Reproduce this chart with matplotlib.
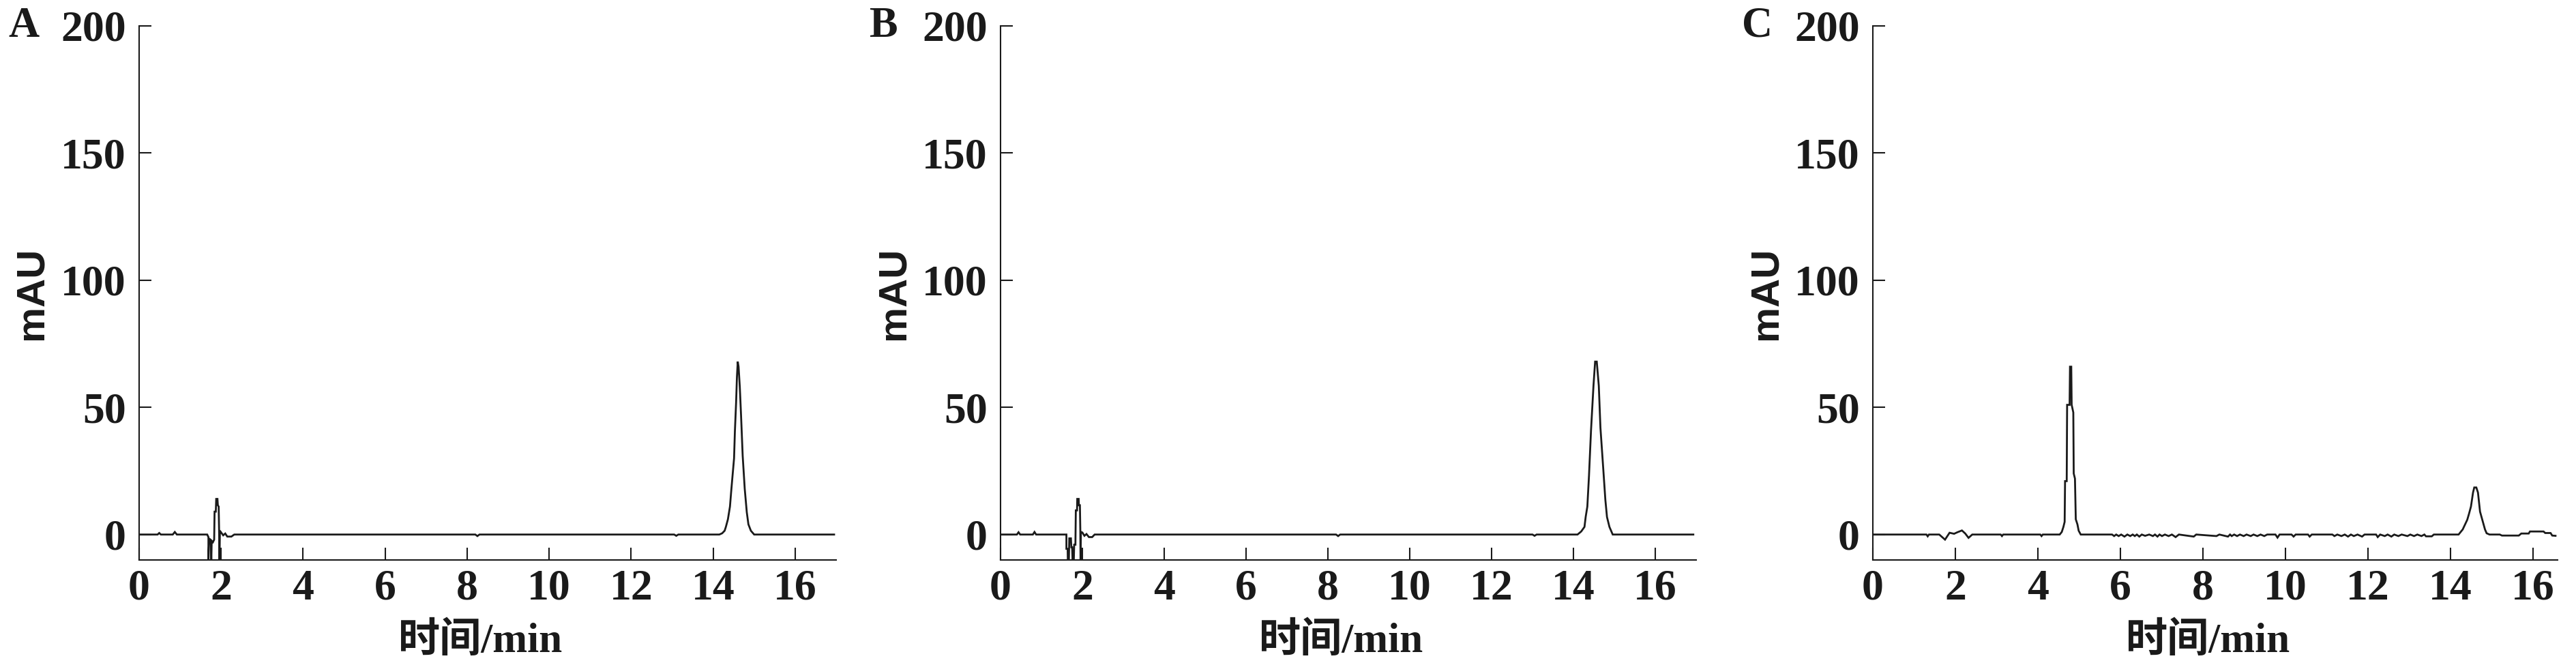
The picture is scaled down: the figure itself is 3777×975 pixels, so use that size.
import matplotlib
matplotlib.use('Agg')
import matplotlib.pyplot as plt

# chromatogram traces (time in min, signal in mAU)
time_a = [0, 0.45, 0.49, 0.53, 0.82, 0.87, 0.92, 1.66, 1.69, 1.69, 1.71, 1.75, 1.76, 1.77,
          1.8, 1.83, 1.84, 1.87, 1.88, 1.91, 1.92, 1.94, 1.95, 1.96, 1.97, 2.0, 2.05, 2.1,
          2.15, 2.25, 2.32, 8.2, 8.25, 8.3, 13.05, 13.1, 13.15,
          14.15, 14.22, 14.28, 14.31, 14.36, 14.41, 14.44, 14.47, 14.51, 14.53, 14.56, 14.58,
          14.6, 14.62, 14.65, 14.68, 14.72, 14.77, 14.82, 14.86, 14.92, 15.0, 16.95]
mau_a = [0, 0, 0.6, 0, 0, 1.0, 0, 0, -1.0, -10.5, -1.5, -2.5, -10.5, -2.5,
         -3.0, -2.0, 9.0, 9.0, 14.0, 14.0, 11.5, 11.0, 2.0, -10.5, 1.5, 0.8, -0.3, 0.4,
         -0.8, -0.8, 0, 0, -0.6, 0, 0, -0.5, 0,
         0, 0.5, 1.5, 3.0, 6.0, 11.0, 17.0, 22.6, 30.0, 40.5, 52.0, 62.0,
         68.0, 66.0, 58.0, 47.0, 31.0, 18.0, 8.8, 4.0, 1.5, 0, 0]

time_b = [0, 0.4, 0.44, 0.48, 0.79, 0.83, 0.87, 1.61, 1.61, 1.64, 1.645, 1.67, 1.68, 1.72,
          1.73, 1.75, 1.76, 1.79, 1.8, 1.83, 1.84, 1.87, 1.875, 1.91, 1.915, 1.94, 1.95,
          1.955, 1.965, 2.0, 2.05, 2.1, 2.16, 2.24, 2.3, 8.2, 8.25, 8.3, 13.0, 13.05, 13.1,
          14.1, 14.19, 14.27, 14.3, 14.34, 14.38, 14.43, 14.49, 14.53, 14.57, 14.62, 14.66,
          14.73, 14.78, 14.82, 14.88, 14.96, 16.93]
mau_b = [0, 0, 0.9, 0, 0, 1.0, 0, 0, -5.6, -5.6, -10.5, -10.5, -1.5, -1.5,
         -5.0, -5.0, -10.5, -10.5, -4.0, -4.0, 9.5, 9.5, 14.0, 14.0, 11.5, 11.5, 1.5,
         -10.5, 1.0, 0.8, -0.5, 0.2, -1.0, -1.0, 0, 0, -0.6, 0, 0, -0.5, 0,
         0, 1.2, 3.0, 7.0, 11.0, 23.0, 41.0, 58.5, 68.0, 68.0, 58.5, 42.0,
         25.6, 13.7, 6.9, 3.0, 0, 0]

time_c = [0, 1.3, 1.33, 1.36, 1.61, 1.75, 1.86, 1.97, 2.05, 2.16, 2.24, 2.32, 2.41,
          3.1, 3.13, 3.16, 4.06, 4.09, 4.12,
          4.53, 4.58, 4.62, 4.65, 4.66, 4.7, 4.71, 4.77, 4.78, 4.81, 4.82, 4.86, 4.87,
          4.9, 4.92, 4.96, 4.99, 5.04,
          5.8, 5.85, 5.9, 5.96, 6.02, 6.1, 6.17, 6.24, 6.3, 6.35, 6.4, 6.46, 6.52, 6.6,
          6.7, 6.79, 6.84, 6.9, 6.95, 7.01, 7.08, 7.17, 7.25, 7.34, 7.42, 7.78, 7.84,
          8.33, 8.4, 8.61, 8.66, 8.7, 8.76, 8.83, 8.9, 8.99, 9.06, 9.16, 9.23, 9.32,
          9.4, 9.49, 9.56, 9.76, 9.81, 9.86, 10.15, 10.2, 10.25, 10.55, 10.59, 10.64,
          11.14, 11.19, 11.26, 11.36, 11.44, 11.52, 11.59, 11.66, 11.75, 11.86, 11.92,
          12.2, 12.24, 12.3, 12.41, 12.48, 12.57, 12.64, 12.74, 12.82, 12.96, 13.03,
          13.12, 13.2, 13.3, 13.37, 13.41, 13.55, 13.6,
          14.2, 14.3, 14.41, 14.45, 14.5, 14.55, 14.58, 14.63, 14.67, 14.72, 14.79,
          14.84, 14.88, 14.95, 15.2, 15.25, 15.66, 15.72, 15.9, 15.93, 16.26, 16.3,
          16.43, 16.47, 16.55]
mau_c = [0, 0, -0.7, 0, 0, -2.0, 0.7, 0.3, 0.9, 1.6, 0.4, -1.3, 0,
         0, -0.6, 0, 0, -0.6, 0,
         0, 1.0, 3.0, 5.0, 21.0, 21.0, 51.0, 51.0, 66.0, 66.0, 51.0, 48.0, 24.0,
         22.0, 6.0, 4.0, 1.5, 0,
         0, -0.6, 0, -0.6, 0, -0.8, 0, -0.6, 0, -0.6, 0, -0.8, 0, -0.5,
         0, -0.6, 0, -0.8, 0, -0.6, 0, -0.6, 0, -1.0, 0, -0.8, 0,
         -0.6, 0, -0.8, 0, -0.6, 0, -0.6, 0, -0.6, 0, -0.6, 0, -0.6,
         0, -0.6, 0, 0, -1.2, 0, 0, -0.8, 0, 0, -0.8, 0,
         0, -0.6, 0, -0.6, 0, -0.8, 0, -0.6, 0, -0.8, 0,
         0, -1.0, 0, -0.6, 0, -0.8, 0, -0.6, 0, -0.6, 0,
         -0.6, 0, -0.6, 0, -0.7, -0.7, 0,
         0, 2.0, 5.8, 8.0, 11.0, 16.5, 18.5, 18.5, 16.5, 9.0, 4.9,
         2.0, 0.5, 0, 0, -0.4, -0.4, 0.4, 0.4, 1.2, 1.2, 0.6,
         0.6, -0.4, -0.5]

panels = ['A', 'B', 'C']
traces = [(time_a, mau_a), (time_b, mau_b), (time_c, mau_c)]
x_max = [17, 17, 16.6]
x_ticks = [0, 2, 4, 6, 8, 10, 12, 14, 16]
y_ticks = [0, 50, 100, 150, 200]

W, H = 3777, 975
# axes boxes in pixels: left, right (top/bottom shared)
boxes = [(204, 1226), (1467, 2487), (2746, 3750)]
top_px, bot_px = 38, 821

serif = ['Liberation Serif', 'Noto Sans CJK SC', 'DejaVu Sans']
ink = '#1a1a1a'

fig = plt.figure(figsize=(W / 100, H / 100), dpi=100)

for (l, r), letter, (t, v), xm in zip(boxes, panels, traces, x_max):
    ax = fig.add_axes([l / W, 1 - bot_px / H, (r - l) / W, (bot_px - top_px) / H])
    ax.plot(t, v, color=ink, lw=2.0, solid_joinstyle='miter')
    ax.set_xlim(0, xm)
    ax.set_ylim(-10, 200)
    ax.set_xticks(x_ticks)
    ax.set_yticks(y_ticks)
    for s in ['top', 'right']:
        ax.spines[s].set_visible(False)
    for s in ['left', 'bottom']:
        ax.spines[s].set_linewidth(1.5)
        ax.spines[s].set_color(ink)
    ax.tick_params(axis='both', direction='in', length=13, width=1.5, color=ink)
    ax.tick_params(axis='x', pad=10)
    ax.tick_params(axis='y', pad=14)
    for lab in ax.get_xticklabels() + ax.get_yticklabels():
        lab.set_fontfamily(serif)
        lab.set_fontweight('bold')
        lab.set_fontsize(46)
        lab.set_color(ink)

    w_px = r - l
    h_px = bot_px - top_px
    ax.set_xlabel('时间/min', fontsize=44, family=serif, fontweight='bold', color=ink)
    ax.xaxis.set_label_coords(0.49, -135 / h_px)
    ax.xaxis.label.set_va('baseline')
    ax.set_ylabel('mAU', fontsize=42, family=['Liberation Sans'], fontweight='bold',
                  color=ink)
    ax.yaxis.set_label_coords(-142 / w_px, 0.5)
    ax.yaxis.label.set_va('baseline')

    fig.text((l - 192) / W, 1 - 54 / H, letter, fontsize=45, family=serif,
             fontweight='bold', ha='left', va='baseline', color=ink)

fig.savefig('out.png', dpi=100, facecolor='white')
